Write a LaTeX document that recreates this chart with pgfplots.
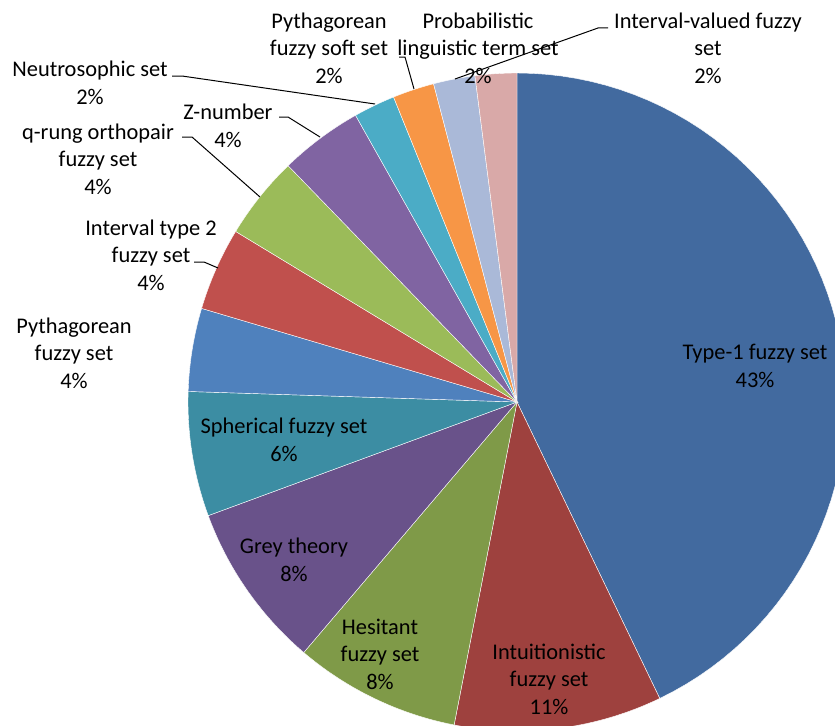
\documentclass[border=0pt]{standalone}
\usepackage{fontspec}
\setmainfont{Carlito}
\usepackage{pgfplots}
\pgfplotsset{compat=1.18}
\definecolor{c1}{HTML}{426A9F}
\definecolor{c2}{HTML}{9E413E}
\definecolor{c3}{HTML}{7F9A48}
\definecolor{c4}{HTML}{69528A}
\definecolor{c5}{HTML}{3C8DA3}
\definecolor{c6}{HTML}{4F81BD}
\definecolor{c7}{HTML}{C0504D}
\definecolor{c8}{HTML}{9BBB59}
\definecolor{c9}{HTML}{8064A2}
\definecolor{c10}{HTML}{4BACC6}
\definecolor{c11}{HTML}{F79646}
\definecolor{c12}{HTML}{AAB9D8}
\definecolor{c13}{HTML}{D9A9A8}
\tikzset{lbl/.style={font=\fontsize{11.2}{13.7}\selectfont, align=center, inner sep=0pt, text=black}}
% total of all counts = 49; #1 = counts before this slice, #2 = count of slice
\newcommand{\slice}[3]{%
  \pgfmathsetmacro\sa{90-(#1+#2)*(360/49)}%
  \pgfmathsetmacro\sb{90-(#1)*(360/49)}%
  \edef\tmp{\noexpand\addplot[fill=#3, draw=white, line width=0.2pt, domain=\sa:\sb, samples=60] ({517+329*cos(x)},{-402+329*sin(x)}) -- (axis cs:517,-402) -- cycle;}%
  \tmp
}
\begin{document}
\begin{tikzpicture}
\begin{axis}[
  scale only axis, width=417.5pt, height=362.5pt,
  xmin=0, xmax=835, ymin=-725, ymax=0,
  hide axis, clip=true,
]
% counts: Type-1 21, Intuitionistic 5, Hesitant 4, Grey 4, Spherical 3,
% Pythagorean 2, Interval type 2 2, q-rung 2, Z-number 2,
% Neutrosophic 1, Pythagorean soft 1, Probabilistic 1, Interval-valued 1
\slice{0}{21}{c1}
\slice{21}{5}{c2}
\slice{26}{4}{c3}
\slice{30}{4}{c4}
\slice{34}{3}{c5}
\slice{37}{2}{c6}
\slice{39}{2}{c7}
\slice{41}{2}{c8}
\slice{43}{2}{c9}
\slice{45}{1}{c10}
\slice{46}{1}{c11}
\slice{47}{1}{c12}
\slice{48}{1}{c13}
% leader lines
\draw[black, line width=0.5pt] (194,-262) -- (204,-262) -- (218,-268);
\draw[black, line width=0.5pt] (182,-137) -- (192,-137) -- (260,-197);
\draw[black, line width=0.5pt] (279,-117) -- (288,-117) -- (320,-137);
\draw[black, line width=0.5pt] (172,-76) -- (182,-76) -- (375,-104);
\draw[black, line width=0.5pt] (399,-57) -- (405,-57) -- (414,-89);
\draw[black, line width=0.5pt] (608,-28) -- (598,-28) -- (455,-79);
% labels
\node[lbl] at (755,-366) {Type-1 fuzzy set\\43\%};
\node[lbl] at (549,-679) {Intuitionistic\\fuzzy set\\11\%};
\node[lbl] at (380,-654) {Hesitant\\fuzzy set\\8\%};
\node[lbl] at (294,-560) {Grey theory\\8\%};
\node[lbl] at (284,-440) {Spherical fuzzy set\\6\%};
\node[lbl] at (74,-353) {Pythagorean\\fuzzy set\\4\%};
\node[lbl] at (151,-255) {Interval type 2\\fuzzy set\\4\%};
\node[lbl] at (98,-159) {q-rung orthopair\\fuzzy set\\4\%};
\node[lbl] at (228,-126) {Z-number\\4\%};
\node[lbl] at (90,-83) {Neutrosophic set\\2\%};
\node[lbl] at (329,-48) {Pythagorean\\fuzzy soft set\\2\%};
\node[lbl] at (478,-48) {Probabilistic\\linguistic term set\\2\%};
\node[lbl] at (708,-48) {Interval-valued fuzzy\\set\\2\%};
\end{axis}
\path (current axis.south west) rectangle (current axis.north east);
\end{tikzpicture}
\end{document}
